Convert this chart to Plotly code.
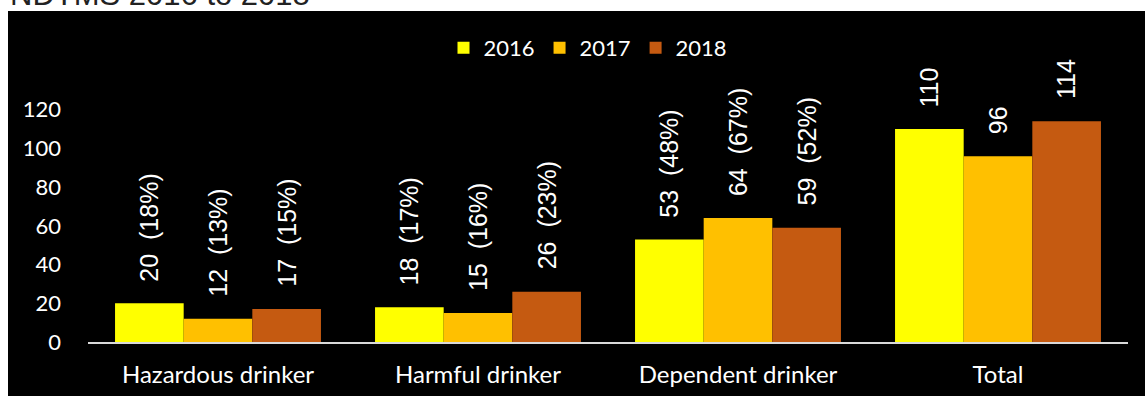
import plotly.graph_objects as go

# data
categories = ["Hazardous drinker", "Harmful drinker", "Dependent drinker", "Total"]
years = ["2016", "2017", "2018"]
counts_2016 = [20, 18, 53, 110]
counts_2017 = [12, 15, 64, 96]
counts_2018 = [17, 26, 59, 114]
pct_2016 = [18, 17, 48]
pct_2017 = [13, 16, 67]
pct_2018 = [15, 23, 52]
colours = ["#FFFF00", "#FFC000", "#C55A11"]
y_ticks = [0, 20, 40, 60, 80, 100, 120]

series = [counts_2016, counts_2017, counts_2018]
pcts = [pct_2016, pct_2017, pct_2018]

# plot area in pixels
W, H = 1145, 396
L, R, T, B = 88, 1128, 71, 342


def px_x(p):
    return (p - L) / (R - L)


def px_y(p):
    return (B - p) / (B - T)


LABEL_FONT = "Liberation Sans, Arial, sans-serif"
AXIS_FONT = "Lato, Open Sans, sans-serif"
bargap = 0.208
bar_w = (1 - bargap) / 3

fig = go.Figure()
for j, (yr, vals) in enumerate(zip(years, series)):
    fig.add_trace(go.Bar(
        x=list(range(len(categories))), y=vals, name=yr,
        marker=dict(color=colours[j], line=dict(width=0)),
    ))

annotations = []
for j, vals in enumerate(series):
    for i, v in enumerate(vals):
        if i < len(pcts[j]):
            txt = f"{v}  ({pcts[j][i]}%)"
        else:
            txt = str(v)
        annotations.append(dict(
            x=i + (j - 1) * bar_w, y=v, xref="x", yref="y",
            text=txt, textangle=-90, showarrow=False,
            xanchor="center", yanchor="bottom", yshift=20,
            font=dict(family=LABEL_FONT, size=25, color="white"),
        ))

# title, mostly cut off by the top edge
annotations.append(dict(
    x=px_x(8), y=px_y(14), xref="paper", yref="paper",
    text="NDTMS 2016 to 2018", showarrow=False,
    xanchor="left", yanchor="bottom",
    font=dict(family=LABEL_FONT, size=31, color="#222222"),
))

fig.update_layout(
    width=W, height=H,
    margin=dict(l=L, r=W - R, t=T, b=H - B, pad=0, autoexpand=False),
    paper_bgcolor="white", plot_bgcolor="black",
    barmode="group", bargap=bargap, bargroupgap=0,
    showlegend=True,
    legend=dict(
        orientation="h", x=px_x(588), y=1 - 48 / H, yref="container",
        xanchor="center", yanchor="middle",
        font=dict(family=AXIS_FONT, size=22, color="white"),
        bgcolor="rgba(0,0,0,0)", itemwidth=30,
    ),
    shapes=[dict(
        type="rect", xref="paper", yref="paper", layer="below",
        x0=px_x(8), x1=px_x(W + 20), y0=px_y(H + 20), y1=px_y(11),
        fillcolor="black", line=dict(width=0),
    )],
    annotations=annotations,
    font=dict(family=AXIS_FONT, color="white"),
)

fig.update_xaxes(
    tickmode="array", tickvals=list(range(len(categories))), ticktext=categories,
    range=[-0.5, len(categories) - 0.5],
    showline=True, linecolor="#D9D9D9", linewidth=2,
    showgrid=False, zeroline=False, ticks="", automargin=False,
    tickfont=dict(family=AXIS_FONT, size=24, color="white"),
    ticklabelstandoff=10,
)
fig.update_yaxes(
    range=[0, 140], tickmode="array", tickvals=y_ticks,
    showgrid=False, zeroline=False, showline=False, ticks="", automargin=False,
    tickfont=dict(family=AXIS_FONT, size=22, color="white"),
    ticklabelstandoff=26,
)

# drop the default page margin so the figure starts at the window corner
fig.write_html("out.html", config={"displayModeBar": False},
               post_script="document.body.style.margin = '0';")
